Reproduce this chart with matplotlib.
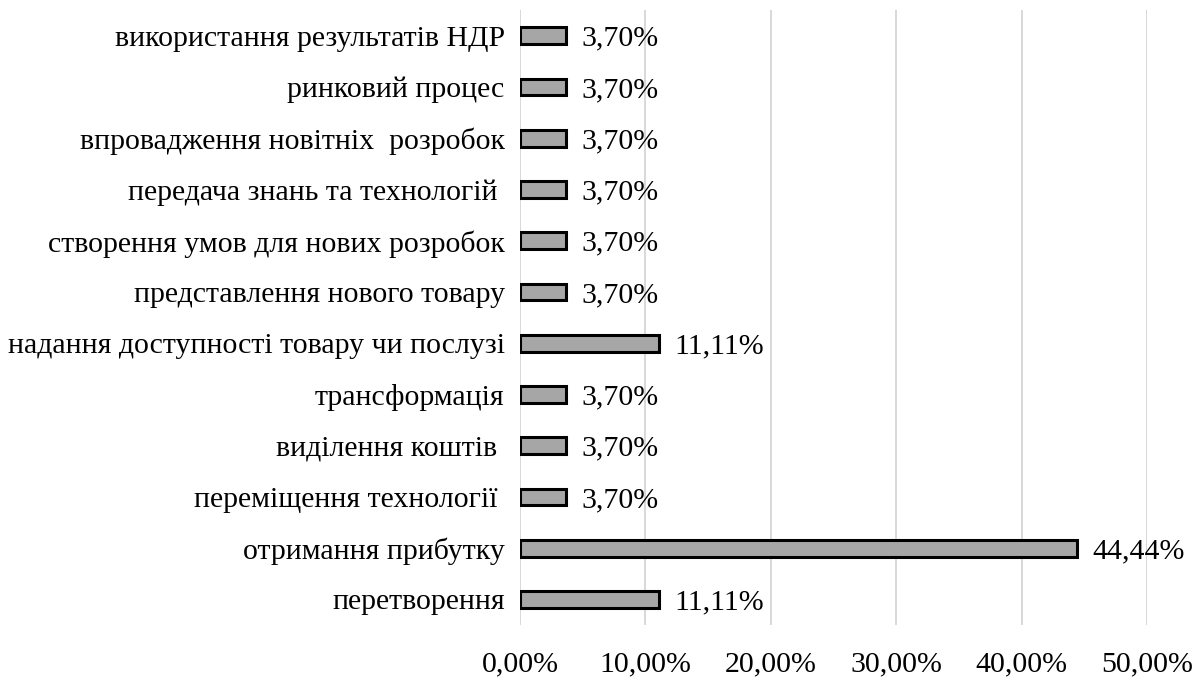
import matplotlib

matplotlib.use("Agg")
import matplotlib.pyplot as plt
from matplotlib.ticker import FuncFormatter

plt.rcParams.update({"font.family": ["Liberation Serif", "DejaVu Serif"], "font.size": 21.5})

categories = [
    "використання результатів НДР",
    "ринковий процес",
    "впровадження новітніх  розробок",
    "передача знань та технологій ",
    "створення умов для нових розробок",
    "представлення нового товару",
    "надання доступності товару чи послузі",
    "трансформація",
    "виділення коштів ",
    "переміщення технології ",
    "отримання прибутку",
    "перетворення",
]
shares = [3.70, 3.70, 3.70, 3.70, 3.70, 3.70, 11.11, 3.70, 3.70, 3.70, 44.44, 11.11]
xticks = [0, 10, 20, 30, 40, 50]


def pct(v):
    return f"{v:.2f}%".replace(".", ",")


fig = plt.figure(figsize=(11.99, 6.78), dpi=100)
ax = fig.add_axes([0.4337, 0.078, 0.5229, 0.907])

y = range(len(categories))
ax.barh(y, shares, height=0.33, color="#a6a6a6", edgecolor="black", linewidth=2.2, zorder=3)
for yi, v in zip(y, shares):
    ax.annotate(pct(v), (v, yi), xytext=(11, 0), textcoords="offset points",
                va="center_baseline", ha="left")

ax.set_yticks(list(y), categories)
ax.set_ylim(len(categories) - 0.5, -0.5)
ax.set_xlim(0, 50)
ax.set_xticks(xticks)
ax.xaxis.set_major_formatter(FuncFormatter(lambda v, _: pct(v)))
ax.grid(axis="x", color="#d6d6d6", linewidth=1.3, zorder=0)
for s in ax.spines.values():
    s.set_visible(False)
ax.tick_params(axis="both", length=0)
ax.tick_params(axis="x", pad=19)
ax.tick_params(axis="y", pad=11)

fig.savefig("out.png", dpi=100)
